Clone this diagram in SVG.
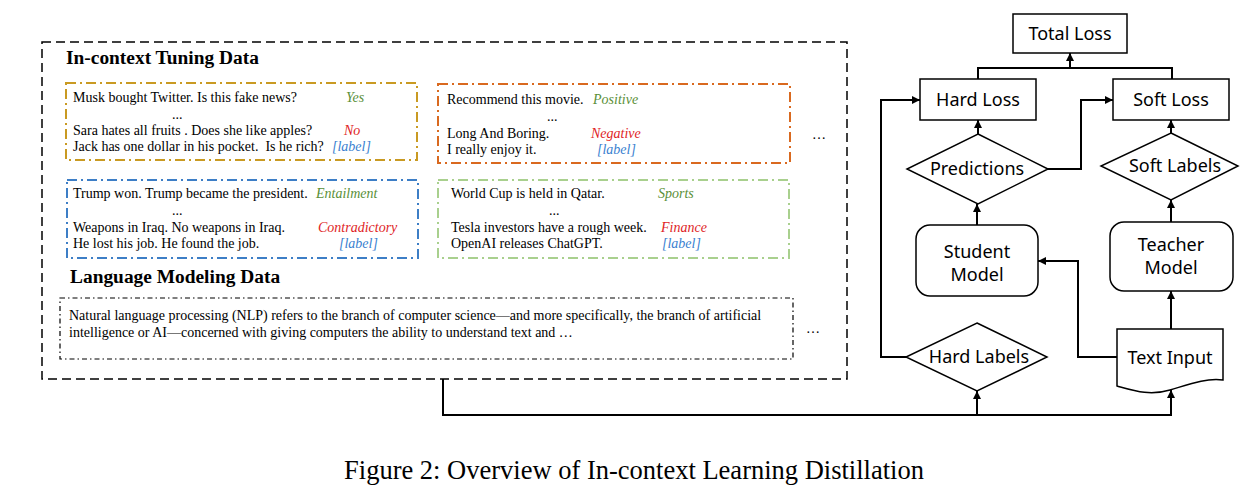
<svg xmlns="http://www.w3.org/2000/svg" width="1259" height="497" viewBox="0 0 1259 497">
<defs>
<marker id="ah" markerWidth="8" markerHeight="8" refX="8" refY="4" orient="auto" markerUnits="userSpaceOnUse">
<path d="M0,0 L8,4 L0,8 z" fill="#000"/>
</marker>
</defs>
<style>
.serif{font-family:"Liberation Serif","Times New Roman",serif;fill:#000}
.t{font-size:14px}
.h{font-size:19.4px;font-weight:bold}
.lm{font-size:14px}
.it{font-style:italic}
.g{fill:#5A8F38}
.r{fill:#E01E26}
.b{fill:#3A7FD0}
.sans{font-family:"Noto Sans","Liberation Sans",sans-serif;font-size:18px;fill:#000;text-anchor:middle}
.node{fill:#fff;stroke:#000;stroke-width:1.5}
.conn{fill:none;stroke:#000;stroke-width:2}
.dd{fill:none;stroke-width:2;stroke-dasharray:10 4 2 4}
</style>
<rect width="1259" height="497" fill="#fff"/>

<g id="data-panel">
<rect x="42" y="42" width="805" height="337" fill="none" stroke="#000" stroke-width="1.5" stroke-dasharray="9 5"/>
<text class="serif h" x="66" y="64">In-context Tuning Data</text>
<text class="serif h" x="70" y="283">Language Modeling Data</text>
</g>

<g id="box-fake-news">
<rect class="dd" x="66" y="83" width="351" height="77" stroke="#C99A22"/>
<text class="serif t" x="73" y="102">Musk bought Twitter. Is this fake news?</text>
<text class="serif t it g" x="346" y="102">Yes</text>
<text class="serif t" x="172" y="119">...</text>
<text class="serif t" x="73" y="135">Sara hates all fruits . Does she like apples?</text>
<text class="serif t it r" x="344" y="135">No</text>
<text class="serif t" x="73" y="151">Jack has one dollar in his pocket.&#160; Is he rich?</text>
<text class="serif t it b" x="332" y="151">[label]</text>
</g>

<g id="box-sentiment">
<rect class="dd" x="438" y="84" width="352" height="79" stroke="#D9691F"/>
<text class="serif t" x="447" y="104">Recommend this movie.</text>
<text class="serif t it g" x="593" y="104">Positive</text>
<text class="serif t" x="547" y="121">...</text>
<text class="serif t" x="447" y="138">Long And Boring.</text>
<text class="serif t it r" x="591" y="138">Negative</text>
<text class="serif t" x="447" y="154">I really enjoy it.</text>
<text class="serif t it b" x="597" y="154">[label]</text>
</g>

<g id="box-nli">
<rect class="dd" x="67" y="180" width="351" height="78" stroke="#3D7EC6"/>
<text class="serif t" x="73" y="198">Trump won. Trump became the president.</text>
<text class="serif t it g" x="316" y="198">Entailment</text>
<text class="serif t" x="172" y="215">...</text>
<text class="serif t" x="73" y="232">Weapons in Iraq. No weapons in Iraq.</text>
<text class="serif t it r" x="318" y="232">Contradictory</text>
<text class="serif t" x="73" y="248">He lost his job. He found the job.</text>
<text class="serif t it b" x="339" y="248">[label]</text>
</g>

<g id="box-topic">
<rect class="dd" x="438" y="180" width="351" height="78" stroke="#A9D08E"/>
<text class="serif t" x="451" y="198">World Cup is held in Qatar.</text>
<text class="serif t it g" x="658" y="198">Sports</text>
<text class="serif t" x="549" y="215">...</text>
<text class="serif t" x="451" y="232">Tesla investors have a rough week.</text>
<text class="serif t it r" x="661" y="232">Finance</text>
<text class="serif t" x="451" y="248">OpenAI releases ChatGPT.</text>
<text class="serif t it b" x="662" y="248">[label]</text>
</g>

<g id="more-1">
<text class="serif t" x="812" y="139">…</text>
</g>

<g id="box-lm">
<rect x="60" y="298" width="733" height="61" fill="none" stroke="#000" stroke-width="1.2" stroke-dasharray="5 3 1.5 3"/>
<text class="serif lm" x="69" y="320">Natural language processing (NLP) refers to the branch of computer science—and more specifically, the branch of artificial</text>
<text class="serif lm" x="69" y="337">intelligence or AI—concerned with giving computers the ability to understand text and …</text>
</g>

<g id="more-2">
<text class="serif t" x="806" y="333">…</text>
</g>

<g id="connectors">
<path class="conn" d="M443,379 V415 H1171 V390" marker-end="url(#ah)"/>
<path class="conn" d="M977,415 V391" marker-end="url(#ah)"/>
<path class="conn" d="M906,357 H881 V100 H920" marker-end="url(#ah)"/>
<path class="conn" d="M1117,357 H1078 V261 H1038" marker-end="url(#ah)"/>
<path class="conn" d="M1171,329 V291" marker-end="url(#ah)"/>
<path class="conn" d="M1171,222 V200" marker-end="url(#ah)"/>
<path class="conn" d="M977,225 V204" marker-end="url(#ah)"/>
<path class="conn" d="M978,134 V120" marker-end="url(#ah)"/>
<path class="conn" d="M1171,133 V120" marker-end="url(#ah)"/>
<path class="conn" d="M1048,169 H1081 V100 H1113" marker-end="url(#ah)"/>
<path class="conn" d="M978,79 V68 H1172 V79"/>
<path class="conn" d="M1070,68 V53" marker-end="url(#ah)"/>
</g>

<g id="total-loss">
<rect class="node" x="1013" y="14" width="114" height="39"/>
<text class="sans" x="1070" y="40">Total Loss</text>
</g>
<g id="hard-loss">
<rect class="node" x="920" y="79" width="116" height="41"/>
<text class="sans" x="978" y="106">Hard Loss</text>
</g>
<g id="soft-loss">
<rect class="node" x="1113" y="79" width="116" height="41"/>
<text class="sans" x="1171" y="106">Soft Loss</text>
</g>
<g id="predictions">
<polygon class="node" points="978,134 1048,169 978,204 907,169"/>
<text class="sans" x="977" y="175">Predictions</text>
</g>
<g id="soft-labels">
<polygon class="node" points="1171,133 1238,166 1171,200 1101,166"/>
<text class="sans" x="1175" y="172">Soft Labels</text>
</g>
<g id="student-model">
<rect class="node" x="916" y="225" width="122" height="71" rx="14"/>
<text class="sans" x="977" y="258">Student</text>
<text class="sans" x="977" y="281">Model</text>
</g>
<g id="teacher-model">
<rect class="node" x="1110" y="222" width="123" height="69" rx="14"/>
<text class="sans" x="1171" y="251">Teacher</text>
<text class="sans" x="1171" y="274">Model</text>
</g>
<g id="hard-labels">
<polygon class="node" points="977,323 1047,357 977,391 906,357"/>
<text class="sans" x="979" y="363">Hard Labels</text>
</g>
<g id="text-input">
<path class="node" d="M1117,329 H1223 V380 C1205,378 1190,384 1170,390 C1150,396 1135,391 1117,386 Z"/>
<text class="sans" x="1170" y="364">Text Input</text>
</g>

<g id="caption">
<text class="serif" x="634" y="479" font-size="26.5" text-anchor="middle">Figure 2: Overview of In-context Learning Distillation</text>
</g>
</svg>
